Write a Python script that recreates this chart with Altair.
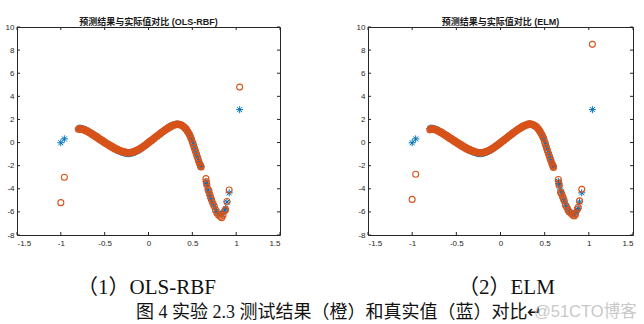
import altair as alt
import pandas as pd

# ---------------- data ----------------
X_OUT = [-1.0, -0.96, 1.04]
TRUE_OUT = [-0.02, 0.32, 2.85]
RBF_OUT = [-5.2, -3.0, 4.8]
ELM_OUT = [-4.92, -2.74, 8.5]

X_DENSE = [-0.80, -0.79, -0.78, -0.77, -0.76, -0.75, -0.74, -0.73, -0.72, -0.71,
           -0.70, -0.69, -0.68, -0.67, -0.66, -0.65, -0.64, -0.63, -0.62, -0.61,
           -0.60, -0.59, -0.58, -0.57, -0.56, -0.55, -0.54, -0.53, -0.52, -0.51,
           -0.50, -0.49, -0.48, -0.47, -0.46, -0.45, -0.44, -0.43, -0.42, -0.41,
           -0.40, -0.39, -0.38, -0.37, -0.36, -0.35, -0.34, -0.33, -0.32, -0.31,
           -0.30, -0.29, -0.28, -0.27, -0.26, -0.25, -0.24, -0.23, -0.22, -0.21,
           -0.20, -0.19, -0.18, -0.17, -0.16, -0.15, -0.14, -0.13, -0.12, -0.11,
           -0.10, -0.09, -0.08, -0.07, -0.06, -0.05, -0.04, -0.03, -0.02, -0.01,
           0.00, 0.01, 0.02, 0.03, 0.04, 0.05, 0.06, 0.07, 0.08, 0.09,
           0.10, 0.11, 0.12, 0.13, 0.14, 0.15, 0.16, 0.17, 0.18, 0.19,
           0.20, 0.21, 0.22, 0.23, 0.24, 0.25, 0.26, 0.27, 0.28, 0.29,
           0.30, 0.31, 0.32, 0.33, 0.34, 0.35, 0.36, 0.37, 0.38, 0.39,
           0.40, 0.41, 0.42, 0.43, 0.44, 0.45, 0.46, 0.47, 0.48, 0.49]
TRUE_DENSE = [1.22, 1.24, 1.24, 1.23, 1.22, 1.20, 1.17, 1.14, 1.10, 1.06,
              1.02, 0.98, 0.93, 0.89, 0.84, 0.79, 0.74, 0.69, 0.64, 0.59,
              0.54, 0.49, 0.44, 0.38, 0.33, 0.28, 0.23, 0.18, 0.13, 0.08,
              0.03, -0.02, -0.07, -0.12, -0.17, -0.22, -0.27, -0.32, -0.37, -0.41,
              -0.46, -0.50, -0.55, -0.60, -0.64, -0.68, -0.72, -0.76, -0.79, -0.82,
              -0.85, -0.88, -0.90, -0.92, -0.94, -0.95, -0.96, -0.96, -0.96, -0.95,
              -0.94, -0.92, -0.90, -0.87, -0.84, -0.81, -0.77, -0.73, -0.69, -0.65,
              -0.60, -0.55, -0.50, -0.45, -0.39, -0.34, -0.28, -0.22, -0.16, -0.10,
              -0.04, 0.02, 0.08, 0.14, 0.20, 0.26, 0.32, 0.38, 0.44, 0.50,
              0.56, 0.62, 0.68, 0.74, 0.80, 0.86, 0.92, 0.97, 1.03, 1.08,
              1.14, 1.19, 1.24, 1.29, 1.34, 1.38, 1.43, 1.47, 1.50, 1.53,
              1.56, 1.58, 1.59, 1.60, 1.59, 1.58, 1.56, 1.53, 1.49, 1.44,
              1.39, 1.32, 1.24, 1.15, 1.04, 0.92, 0.79, 0.64, 0.46, 0.28]
RBF_DENSE = [1.15, 1.20, 1.14, 1.19, 1.13, 1.16, 1.09, 1.12, 1.03, 1.05,
             0.95, 0.97, 0.86, 0.89, 0.78, 0.80, 0.68, 0.71, 0.58, 0.61,
             0.48, 0.51, 0.38, 0.41, 0.27, 0.31, 0.17, 0.21, 0.07, 0.11,
             -0.03, 0.01, -0.13, -0.08, -0.22, -0.17, -0.32, -0.26, -0.41, -0.35,
             -0.50, -0.43, -0.58, -0.52, -0.65, -0.59, -0.71, -0.66, -0.76, -0.72,
             -0.80, -0.78, -0.84, -0.81, -0.88, -0.85, -0.90, -0.86, -0.90, -0.86,
             -0.88, -0.83, -0.84, -0.77, -0.79, -0.72, -0.73, -0.65, -0.66, -0.58,
             -0.56, -0.48, -0.47, -0.38, -0.37, -0.28, -0.26, -0.17, -0.14, -0.05,
             -0.02, 0.08, 0.09, 0.19, 0.21, 0.31, 0.32, 0.43, 0.45, 0.55,
             0.56, 0.66, 0.68, 0.78, 0.80, 0.89, 0.91, 1.00, 1.02, 1.11,
             1.12, 1.22, 1.22, 1.31, 1.31, 1.40, 1.40, 1.48, 1.47, 1.54,
             1.52, 1.59, 1.55, 1.61, 1.56, 1.59, 1.53, 1.54, 1.47, 1.45,
             1.37, 1.33, 1.22, 1.16, 1.02, 0.94, 0.77, 0.66, 0.45, 0.30]
ELM_DENSE = [1.10, 1.18, 1.15, 1.20, 1.13, 1.17, 1.10, 1.12, 1.05, 1.06,
             0.96, 0.98, 0.87, 0.90, 0.79, 0.81, 0.69, 0.72, 0.59, 0.62,
             0.49, 0.52, 0.38, 0.42, 0.28, 0.32, 0.18, 0.22, 0.08, 0.12,
             -0.02, 0.02, -0.12, -0.07, -0.21, -0.16, -0.31, -0.25, -0.40, -0.34,
             -0.49, -0.43, -0.57, -0.52, -0.64, -0.59, -0.70, -0.66, -0.75, -0.72,
             -0.80, -0.79, -0.84, -0.82, -0.88, -0.86, -0.90, -0.87, -0.90, -0.87,
             -0.88, -0.84, -0.84, -0.78, -0.79, -0.73, -0.73, -0.66, -0.66, -0.59,
             -0.56, -0.49, -0.47, -0.39, -0.37, -0.29, -0.26, -0.18, -0.14, -0.06,
             -0.02, 0.07, 0.09, 0.18, 0.21, 0.30, 0.32, 0.42, 0.45, 0.54,
             0.56, 0.65, 0.68, 0.77, 0.80, 0.89, 0.91, 1.00, 1.02, 1.10,
             1.12, 1.21, 1.22, 1.31, 1.31, 1.40, 1.40, 1.48, 1.47, 1.54,
             1.52, 1.60, 1.55, 1.62, 1.57, 1.60, 1.54, 1.55, 1.48, 1.46,
             1.38, 1.34, 1.23, 1.17, 1.03, 0.95, 0.79, 0.68, 0.48, 0.32]

X_SPARSE = [0.50, 0.51, 0.52, 0.53, 0.54, 0.55, 0.56, 0.57, 0.58, 0.59, 0.595, 0.60,
            0.655, 0.66, 0.665, 0.68, 0.69, 0.70, 0.71, 0.72, 0.735, 0.75, 0.765,
            0.78, 0.80, 0.82, 0.835, 0.85, 0.87, 0.88, 0.895, 0.92]
TRUE_SPARSE = [0.10, -0.12, -0.38, -0.62, -0.85, -1.08, -1.30, -1.52, -1.72, -1.90, -2.00, -2.10,
               -3.35, -3.55, -3.75, -4.10, -4.35, -4.60, -4.85, -5.05, -5.30, -5.55, -5.80,
               -6.00, -6.15, -6.22, -6.18, -6.05, -5.85, -5.70, -5.15, -4.35]
RBF_SPARSE = [0.05, -0.15, -0.40, -0.62, -0.85, -1.10, -1.32, -1.55, -1.78, -1.95, -2.05, -2.12,
              -3.12, -3.40, -3.60, -4.05, -4.20, -4.50, -4.75, -4.95, -5.25, -5.50, -5.85,
              -6.10, -6.30, -6.40, -6.50, -6.30, -5.90, -5.80, -5.10, -4.10]
ELM_SPARSE = [0.02, -0.18, -0.42, -0.65, -0.88, -1.12, -1.35, -1.58, -1.80, -1.97, -2.05, -2.15,
              -3.20, -3.50, -3.70, -4.30, -4.40, -4.60, -4.80, -5.00, -5.40, -5.60, -5.85,
              -6.00, -6.15, -6.30, -6.35, -6.20, -5.75, -5.60, -5.05, -4.05]

X_TICKS = [-1.5, -1, -0.5, 0, 0.5, 1, 1.5]
Y_TICKS = [-8, -6, -4, -2, 0, 2, 4, 6, 8, 10]

TITLE_L = "预测结果与实际值对比 (OLS-RBF)"
TITLE_R = "预测结果与实际值对比 (ELM)"
CAP_L = "（1）OLS-RBF"
CAP_R = "（2）ELM"
CAP_MAIN = "图 4  实验 2.3 测试结果（橙）和真实值（蓝）对比↵"
WATERMARK = "@51CTO博客"

df = pd.DataFrame({
    "x": X_OUT + X_DENSE + X_SPARSE,
    "true": TRUE_OUT + TRUE_DENSE + TRUE_SPARSE,
    "rbf": RBF_OUT + RBF_DENSE + RBF_SPARSE,
    "elm": ELM_OUT + ELM_DENSE + ELM_SPARSE,
})

ASTERISK = "M-1,0L1,0M0,-1L0,1M-0.7,-0.7L0.7,0.7M-0.7,0.7L0.7,-0.7"
AX_COLOR = "#262626"
SANS = "Liberation Sans, Noto Sans CJK SC"
SERIF = "Liberation Serif, Noto Sans CJK SC"


def panel(pred, title, w, h, texts):
    xs = alt.Scale(domain=[-1.5, 1.5], nice=False, zero=False)
    ys = alt.Scale(domain=[-8, 10], nice=False, zero=False)
    xaxis = alt.Axis(values=X_TICKS, title=None, labelExpr="datum.value + ''",
                     ticks=False, domain=False, grid=False, labelPadding=4)
    yaxis = alt.Axis(values=Y_TICKS, title=None, labelExpr="datum.value + ''",
                     ticks=False, domain=False, grid=False, labelPadding=3)
    base = alt.Chart(df)
    blue = base.mark_point(shape=ASTERISK, filled=False, color="#0072BD",
                           size=50, strokeWidth=1, opacity=1).encode(
        x=alt.X("x:Q", scale=xs, axis=xaxis),
        y=alt.Y("true:Q", scale=ys, axis=yaxis))
    orange = base.mark_point(shape="circle", filled=False, color="#D95319",
                             size=36, strokeWidth=1.1, opacity=1).encode(
        x=alt.X("x:Q", scale=xs, axis=xaxis),
        y=alt.Y(f"{pred}:Q", scale=ys, axis=yaxis))
    xt = alt.Chart(pd.DataFrame({"v": X_TICKS}))
    yt = alt.Chart(pd.DataFrame({"v": Y_TICKS}))
    tick_b = xt.mark_rule(color=AX_COLOR, strokeWidth=1).encode(
        x=alt.X("v:Q", scale=xs, axis=xaxis), y=alt.value(h), y2=alt.value(h - 3))
    tick_t = xt.mark_rule(color=AX_COLOR, strokeWidth=1).encode(
        x=alt.X("v:Q", scale=xs, axis=xaxis), y=alt.value(0), y2=alt.value(3))
    tick_l = yt.mark_rule(color=AX_COLOR, strokeWidth=1).encode(
        y=alt.Y("v:Q", scale=ys, axis=yaxis), x=alt.value(0), x2=alt.value(3))
    tick_r = yt.mark_rule(color=AX_COLOR, strokeWidth=1).encode(
        y=alt.Y("v:Q", scale=ys, axis=yaxis), x=alt.value(w), x2=alt.value(w - 3))
    layers = [blue, orange, tick_b, tick_t, tick_l, tick_r]
    for (t, px, py, size, font, color) in texts:
        layers.append(
            alt.Chart(pd.DataFrame({"t": [t]})).mark_text(
                align="left", baseline="middle", fontSize=size, font=font,
                color=color).encode(x=alt.value(px), y=alt.value(py), text="t:N"))
    return alt.layer(*layers).properties(
        width=w, height=h,
        title=alt.TitleParams(title, fontSize=9, font=SANS, fontWeight="bold",
                              color="#1a1a1a", offset=-4))


left = panel("rbf", TITLE_L, 263, 208, [
    (CAP_L, 60, 261, 21, SERIF, "#111111"),
    (CAP_MAIN, 119, 286, 18, SERIF, "#111111"),
])
right = panel("elm", TITLE_R, 265, 208, [
    (CAP_R, 90, 261, 21, SERIF, "#111111"),
    (WATERMARK, 166, 285, 16.5, "Liberation Sans, Noto Sans CJK SC", "#c8c8c8"),
])

chart = alt.hconcat(left, right, spacing=88, bounds="flush").properties(
    padding={"left": 4, "top": 17, "right": 0, "bottom": 0},
    background="white",
).configure_view(stroke=AX_COLOR, strokeWidth=1).configure_axis(
    labelFont="Liberation Sans", labelFontSize=8, labelColor=AX_COLOR)

chart.save("out.html", embed_options={"renderer": "svg", "actions": False})
